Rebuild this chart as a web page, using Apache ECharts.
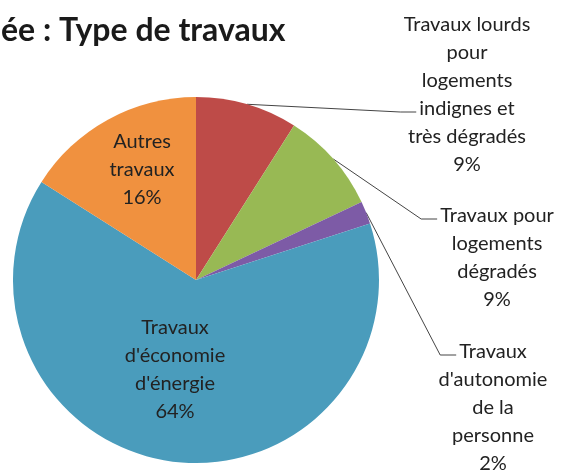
<!DOCTYPE html>
<html>
<head>
<meta charset="utf-8">
<script src="https://cdn.jsdelivr.net/npm/echarts@6/dist/echarts.min.js"></script>
<style>
  html, body { margin: 0; padding: 0; background: #fff; }
  #chart { width: 566px; height: 472px; }
</style>
</head>
<body>
<div id="chart"></div>
<script>
// données
const categories = [
  'Travaux lourds\npour\nlogements\nindignes et\ntrès dégradés',
  'Travaux pour\nlogements\ndégradés',
  "Travaux\nd'autonomie\nde la\npersonne",
  "Travaux\nd'économie\nd'énergie",
  'Autres\ntravaux'
]
const values = [9, 9, 2, 64, 16]
const colors = ['#BE4B48', '#98B954', '#7D5BA6', '#4A9CBC', '#F0913F']

// position des étiquettes (centre du bloc de texte)
const labelPos = [
  [467, 95],
  [497, 258],
  [493, 408],
  [175, 370],
  [142, 170]
]
// ligne du texte où arrive le trait de rappel
const attachLine = [3, 0, 0]

const FONT_SIZE = 20
const LINE_H = 28
const FONT_FAMILY = 'Lato'

const ctx = document.createElement('canvas').getContext('2d')
ctx.font = FONT_SIZE + 'px ' + FONT_FAMILY
const textWidth = (s) => ctx.measureText(s).width

const chart = echarts.init(document.getElementById('chart'))

chart.setOption({
  animation: false,
  title: {
    text: 'ée : Type de travaux',
    left: -4,
    top: 10,
    textStyle: {
      fontFamily: FONT_FAMILY,
      fontWeight: 'bold',
      fontSize: 32,
      color: '#1a1a1a'
    }
  },
  series: [
    {
      type: 'pie',
      center: [196, 280],
      radius: 183,
      startAngle: 90,
      clockwise: true,
      data: categories.map((name, i) => ({
        name: name,
        value: values[i],
        itemStyle: { color: colors[i] },
        label: i >= 3 ? { position: 'inside' } : { position: 'outside' },
        labelLine: { show: i < 3 }
      })),
      label: {
        formatter: '{b}\n{c}%',
        fontFamily: FONT_FAMILY,
        fontSize: FONT_SIZE,
        lineHeight: LINE_H,
        color: '#222',
        align: 'center'
      },
      labelLine: {
        lineStyle: { color: '#444', width: 1 },
        length: 20,
        length2: 10
      },
      labelLayout: (params) => {
        const i = params.dataIndex
        const p = labelPos[i]
        const out = { x: p[0], y: p[1], align: 'center', verticalAlign: 'middle' }
        if (i < 3 && params.labelLinePoints) {
          const lines = (categories[i] + '\n' + values[i] + '%').split('\n')
          const k = attachLine[i]
          const top = p[1] - lines.length * LINE_H / 2
          const ly = top + LINE_H * (k + 0.5) + 3
          const lx = p[0] - textWidth(lines[k]) / 2 - 3
          out.labelLinePoints = [
            params.labelLinePoints[0],
            [lx - 16, ly],
            [lx, ly]
          ]
        }
        return out
      }
    }
  ]
})
</script>
</body>
</html>
